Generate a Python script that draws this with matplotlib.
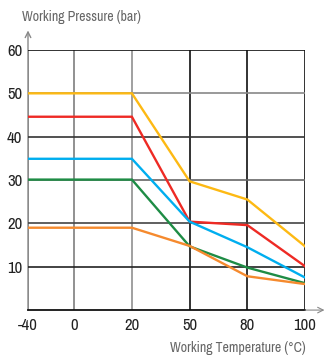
import matplotlib
matplotlib.use("Agg")
import matplotlib.pyplot as plt
from matplotlib import font_manager as fm

temps = ["-40", "0", "20", "50", "80", "100"]
yellow = [50, 50, 50, 29.7, 25.5, 14.7]
red = [44.6, 44.6, 44.6, 20.4, 19.6, 10.1]
blue = [34.9, 34.9, 34.9, 20.4, 14.5, 7.5]
green = [30.1, 30.1, 30.1, 14.7, 9.8, 6.2]
orange = [19.0, 19.0, 19.0, 14.8, 7.8, 6.0]
yticks = [10, 20, 30, 40, 50, 60]

xpos = [0, 0.8, 1.8, 2.8, 3.8, 4.8]

# look for a condensed face
narrow = None
for f in fm.fontManager.ttflist:
    if 'Narrow' in f.name or 'Condensed' in f.name:
        narrow = f.name
        break
if narrow:
    fam = [narrow, 'Liberation Sans', 'DejaVu Sans']
    title_size = 10
    tick_size = 12
else:
    fam = ['Liberation Sans', 'DejaVu Sans']
    title_size = 8.3
    tick_size = 10.5
plt.rcParams['font.family'] = fam

fig = plt.figure(figsize=(3.31, 3.56), dpi=100)
ax = fig.add_axes([0.0846, 0.129, 0.837, 0.7306])
ax.set_xlim(0, 4.8)
ax.set_ylim(0, 60)

# grid
vcols = ['#888888', '#888888', '#999999', '#222222', '#222222', '#222222']
for x, c in zip(xpos, vcols):
    ax.axvline(x, color=c, lw=1.3, zorder=1)
hcols = {10: '#222222', 20: '#444444', 30: '#666666', 40: '#333333', 50: '#888888', 60: '#111111'}
for y in yticks:
    ax.axhline(y, color=hcols[y], lw=1.2, zorder=1)

for vals, c in [(yellow, '#FDB913'), (red, '#EE2A24'), (blue, '#00AEEF'),
                (green, '#1E8C45'), (orange, '#F58A2E')]:
    ax.plot(xpos, vals, color=c, lw=1.7, zorder=3, solid_joinstyle='miter')

for s in ['top', 'right']:
    ax.spines[s].set_visible(False)
ax.spines['left'].set_visible(False)
ax.spines['bottom'].set_color('#111111')
ax.spines['bottom'].set_linewidth(1.3)

ax.set_xticks(xpos)
ax.set_xticklabels(temps)
ax.set_yticks(yticks)
ax.set_yticklabels([str(v) for v in yticks])
ax.tick_params(length=0, labelsize=tick_size, colors='#222222')
ax.tick_params(axis='x', pad=6)
ax.tick_params(axis='y', pad=4)

# axis arrows
ax.annotate('', xy=(0, 1.075), xycoords='axes fraction', xytext=(0, 0),
            arrowprops=dict(arrowstyle='->', color='#888888', lw=1.0,
                            mutation_scale=10, shrinkA=0, shrinkB=0), zorder=0)
ax.annotate('', xy=(1.07, 0), xycoords='axes fraction', xytext=(1.0, 0),
            arrowprops=dict(arrowstyle='->', color='#888888', lw=0.8,
                            mutation_scale=10, shrinkA=0, shrinkB=0))

fig.text(0.066, 0.952, 'Working Pressure (bar)', fontsize=title_size, color='#666666',
         ha='left', va='center')
fig.text(0.922, 0.022, 'Working Temperature (°C)', fontsize=title_size, color='#666666',
         ha='right', va='center')

fig.savefig('out.png', dpi=100)
